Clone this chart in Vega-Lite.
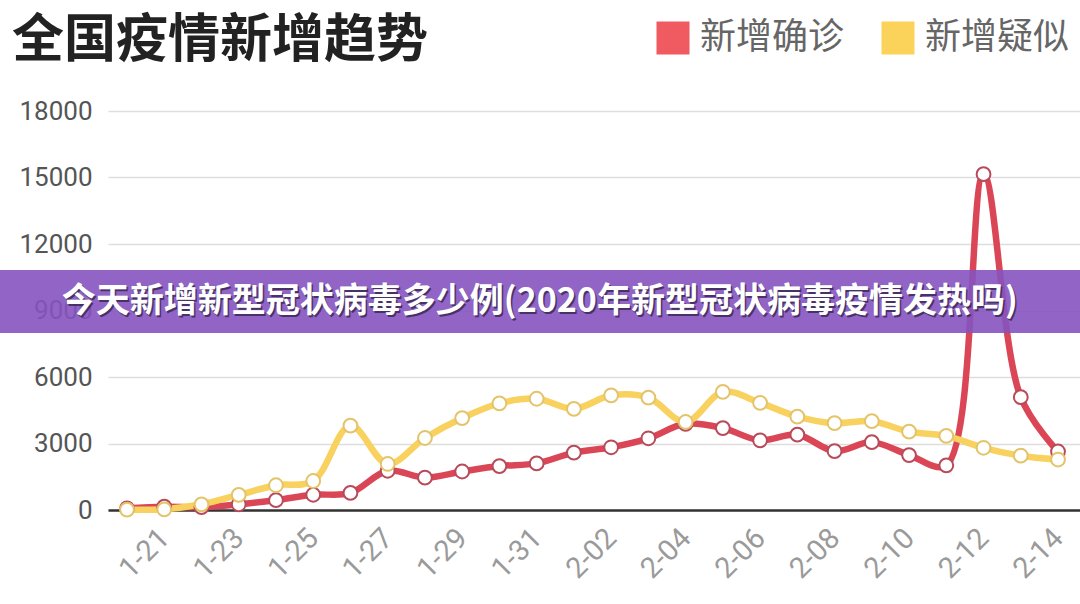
{
  "$schema": "https://vega.github.io/schema/vega-lite/v6.json",
  "autosize": "none",
  "width": 972,
  "height": 399,
  "padding": {"left": 108, "top": 111, "right": 0, "bottom": 94},
  "background": "white",
  "title": {
    "text": "全国疫情新增趋势",
    "anchor": "start",
    "frame": "group",
    "dx": -96,
    "dy": 80,
    "offset": 32,
    "fontSize": 52,
    "fontWeight": "bold",
    "font": "Noto Sans CJK SC",
    "color": "#222222"
  },
  "datasets": {
    "trend": [
      {"date": "2020-01-20", "series": "新增确诊", "v": 77},
      {"date": "2020-01-21", "series": "新增确诊", "v": 149},
      {"date": "2020-01-22", "series": "新增确诊", "v": 131},
      {"date": "2020-01-23", "series": "新增确诊", "v": 259},
      {"date": "2020-01-24", "series": "新增确诊", "v": 444},
      {"date": "2020-01-25", "series": "新增确诊", "v": 688},
      {"date": "2020-01-26", "series": "新增确诊", "v": 769},
      {"date": "2020-01-27", "series": "新增确诊", "v": 1771},
      {"date": "2020-01-28", "series": "新增确诊", "v": 1459},
      {"date": "2020-01-29", "series": "新增确诊", "v": 1737},
      {"date": "2020-01-30", "series": "新增确诊", "v": 1982},
      {"date": "2020-01-31", "series": "新增确诊", "v": 2102},
      {"date": "2020-02-01", "series": "新增确诊", "v": 2590},
      {"date": "2020-02-02", "series": "新增确诊", "v": 2829},
      {"date": "2020-02-03", "series": "新增确诊", "v": 3235},
      {"date": "2020-02-04", "series": "新增确诊", "v": 3887},
      {"date": "2020-02-05", "series": "新增确诊", "v": 3694},
      {"date": "2020-02-06", "series": "新增确诊", "v": 3143},
      {"date": "2020-02-07", "series": "新增确诊", "v": 3399},
      {"date": "2020-02-08", "series": "新增确诊", "v": 2656},
      {"date": "2020-02-09", "series": "新增确诊", "v": 3062},
      {"date": "2020-02-10", "series": "新增确诊", "v": 2478},
      {"date": "2020-02-11", "series": "新增确诊", "v": 2015},
      {"date": "2020-02-12", "series": "新增确诊", "v": 15152},
      {"date": "2020-02-13", "series": "新增确诊", "v": 5090},
      {"date": "2020-02-14", "series": "新增确诊", "v": 2641},
      {"date": "2020-01-20", "series": "新增疑似", "v": 20},
      {"date": "2020-01-21", "series": "新增疑似", "v": 30},
      {"date": "2020-01-22", "series": "新增疑似", "v": 257},
      {"date": "2020-01-23", "series": "新增疑似", "v": 680},
      {"date": "2020-01-24", "series": "新增疑似", "v": 1118},
      {"date": "2020-01-25", "series": "新增疑似", "v": 1309},
      {"date": "2020-01-26", "series": "新增疑似", "v": 3806},
      {"date": "2020-01-27", "series": "新增疑似", "v": 2077},
      {"date": "2020-01-28", "series": "新增疑似", "v": 3248},
      {"date": "2020-01-29", "series": "新增疑似", "v": 4148},
      {"date": "2020-01-30", "series": "新增疑似", "v": 4812},
      {"date": "2020-01-31", "series": "新增疑似", "v": 5019},
      {"date": "2020-02-01", "series": "新增疑似", "v": 4562},
      {"date": "2020-02-02", "series": "新增疑似", "v": 5173},
      {"date": "2020-02-03", "series": "新增疑似", "v": 5072},
      {"date": "2020-02-04", "series": "新增疑似", "v": 3971},
      {"date": "2020-02-05", "series": "新增疑似", "v": 5328},
      {"date": "2020-02-06", "series": "新增疑似", "v": 4833},
      {"date": "2020-02-07", "series": "新增疑似", "v": 4214},
      {"date": "2020-02-08", "series": "新增疑似", "v": 3916},
      {"date": "2020-02-09", "series": "新增疑似", "v": 4008},
      {"date": "2020-02-10", "series": "新增疑似", "v": 3536},
      {"date": "2020-02-11", "series": "新增疑似", "v": 3342},
      {"date": "2020-02-12", "series": "新增疑似", "v": 2807},
      {"date": "2020-02-13", "series": "新增疑似", "v": 2450},
      {"date": "2020-02-14", "series": "新增疑似", "v": 2277}
    ],
    "banner": [
      {"label": "今天新增新型冠状病毒多少例(2020年新型冠状病毒疫情发热吗)"}
    ]
  },
  "layer": [
    {
      "data": {"name": "trend"},
      "mark": {"type": "line", "strokeWidth": 6.5, "interpolate": "catmull-rom", "strokeCap": "round"},
      "encoding": {
        "x": {
          "field": "date",
          "type": "temporal",
          "title": null,
          "scale": {
            "type": "utc",
            "domain": [1579434300000, 1581689400000]
          },
          "axis": {
            "values": [1579564800000, 1579737600000, 1579910400000, 1580083200000, 1580256000000, 1580428800000, 1580601600000, 1580774400000, 1580947200000, 1581120000000, 1581292800000, 1581465600000, 1581638400000],
            "labelExpr": "utcFormat(datum.value, '%-m-%d')",
            "labelAngle": -45,
            "labelAlign": "right",
            "labelBaseline": "middle",
            "labelPadding": 23,
            "labelFontSize": 29,
            "labelColor": "#9a9a9a",
            "labelFont": "Roboto",
            "ticks": false,
            "grid": false,
            "domainColor": "#333333",
            "domainWidth": 2.5,
            "labelOverlap": false
          }
        },
        "y": {
          "field": "v",
          "type": "quantitative",
          "title": null,
          "scale": {"domain": [0, 18000], "nice": false},
          "axis": {
            "values": [0, 3000, 6000, 9000, 12000, 15000, 18000],
            "format": "d",
            "labelFontSize": 26,
            "labelColor": "#555555",
            "labelFont": "Roboto",
            "labelPadding": 16,
            "ticks": false,
            "domain": false,
            "gridColor": "#dddddd",
            "gridWidth": 1.5
          }
        },
        "color": {
          "field": "series",
          "type": "nominal",
          "scale": {"domain": ["新增确诊", "新增疑似"], "range": ["#db4657", "#f8d15e"]},
          "legend": {
            "title": null,
            "orient": "none",
            "legendX": 547,
            "legendY": -91,
            "direction": "horizontal",
            "symbolType": "square",
            "symbolSize": 1089,
            "symbolStrokeWidth": 0,
            "labelFontSize": 36,
            "labelFont": "Noto Sans CJK SC",
            "labelColor": "#666666",
            "labelOffset": 9,
            "columnPadding": 35,
            "padding": 0,
            "encode": {
              "symbols": {
                "update": {
                  "fill": {"signal": "datum.value === '新增确诊' ? '#ef5b61' : '#fbd35b'"},
                  "fillOpacity": {"value": 1},
                  "strokeWidth": {"value": 0}
                }
              }
            }
          }
        }
      }
    },
    {
      "data": {"name": "trend"},
      "mark": {"type": "point", "filled": true, "fill": "white", "size": 190, "strokeWidth": 2, "opacity": 1},
      "encoding": {
        "x": {"field": "date", "type": "temporal"},
        "y": {"field": "v", "type": "quantitative"},
        "stroke": {
          "field": "series",
          "type": "nominal",
          "scale": {"domain": ["新增确诊", "新增疑似"], "range": ["#b84a5a", "#e3c46a"]},
          "legend": null
        }
      }
    },
    {
      "data": {"name": "banner"},
      "mark": {"type": "rect", "fill": "#8553c0", "opacity": 0.9, "clip": false},
      "encoding": {
        "x": {"datum": 1578960000000, "type": "temporal"},
        "x2": {"datum": 1581984000000},
        "y": {"datum": 7985, "type": "quantitative"},
        "y2": {"datum": 10827}
      }
    },
    {
      "data": {"name": "banner"},
      "mark": {"type": "text", "font": "Noto Sans CJK SC", "fontSize": 34, "fontWeight": "bold", "fill": "#2a1d3d", "opacity": 0.7, "dx": 1.5, "dy": 1.5, "align": "center", "baseline": "middle", "clip": false},
      "encoding": {
        "x": {"datum": 1580436000000, "type": "temporal"},
        "y": {"datum": 9383, "type": "quantitative"},
        "text": {"field": "label"}
      }
    },
    {
      "data": {"name": "banner"},
      "mark": {"type": "text", "font": "Noto Sans CJK SC", "fontSize": 34, "fontWeight": "bold", "fill": "white", "align": "center", "baseline": "middle", "clip": false},
      "encoding": {
        "x": {"datum": 1580436000000, "type": "temporal"},
        "y": {"datum": 9383, "type": "quantitative"},
        "text": {"field": "label"}
      }
    }
  ],
  "config": {
    "view": {"stroke": null}
  }
}
